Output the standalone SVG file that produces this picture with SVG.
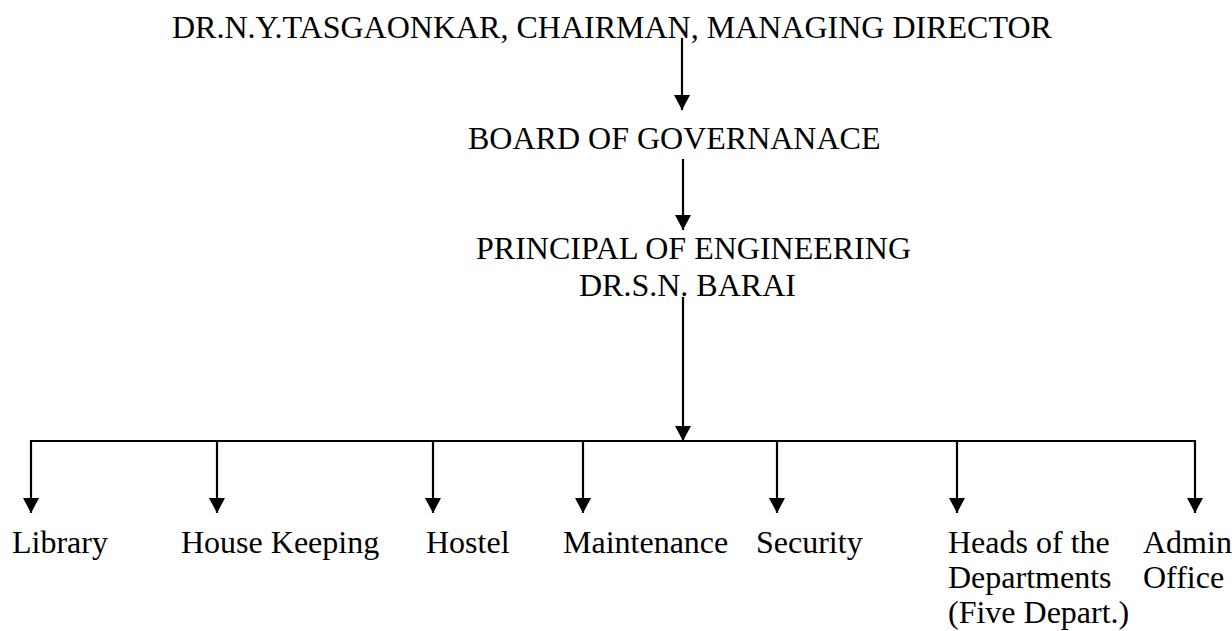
<svg xmlns="http://www.w3.org/2000/svg" width="1232" height="631" viewBox="0 0 1232 631">
<style>
text{font-family:"Liberation Serif","Times New Roman",serif;font-size:32px;fill:#000}
.c{stroke:#000;stroke-width:2.2;fill:none}
</style>
<defs>
<marker id="ah" markerUnits="userSpaceOnUse" markerWidth="16" markerHeight="16" refX="15" refY="8" orient="auto" viewBox="0 0 16 16">
<path d="M0,0 L15,8 L0,16 z" fill="#000"/>
</marker>
</defs>
<rect width="1232" height="631" fill="#fff"/>
<g id="chairman"><text x="172" y="38">DR.N.Y.TASGAONKAR, CHAIRMAN, MANAGING DIRECTOR</text></g>
<g id="board"><text x="468" y="149">BOARD OF GOVERNANACE</text></g>
<g id="principal"><text x="476" y="259">PRINCIPAL OF ENGINEERING</text><text x="579" y="296">DR.S.N. BARAI</text></g>
<g id="library"><text x="12" y="553">Library</text></g>
<g id="housekeeping"><text x="181" y="553">House Keeping</text></g>
<g id="hostel"><text x="426" y="553">Hostel</text></g>
<g id="maintenance"><text x="563" y="553">Maintenance</text></g>
<g id="security"><text x="756" y="553">Security</text></g>
<g id="heads"><text x="948" y="553">Heads of the</text><text x="948" y="588">Departments</text><text x="948" y="623">(Five Depart.)</text></g>
<g id="admin"><text x="1143" y="553">Admin</text><text x="1143" y="588">Office</text></g>
<g id="connectors">
<line class="c" x1="682" y1="38" x2="682" y2="110" marker-end="url(#ah)"/>
<line class="c" x1="683" y1="159" x2="683" y2="230" marker-end="url(#ah)"/>
<line class="c" x1="683" y1="297" x2="683" y2="441" marker-end="url(#ah)"/>
<line class="c" x1="31" y1="441" x2="1196" y2="441"/>
<line class="c" x1="31" y1="440" x2="31" y2="513" marker-end="url(#ah)"/>
<line class="c" x1="217" y1="441" x2="217" y2="513" marker-end="url(#ah)"/>
<line class="c" x1="433" y1="441" x2="433" y2="513" marker-end="url(#ah)"/>
<line class="c" x1="583" y1="441" x2="583" y2="513" marker-end="url(#ah)"/>
<line class="c" x1="777" y1="441" x2="777" y2="513" marker-end="url(#ah)"/>
<line class="c" x1="957" y1="441" x2="957" y2="513" marker-end="url(#ah)"/>
<line class="c" x1="1195" y1="440" x2="1195" y2="513" marker-end="url(#ah)"/>
</g>
</svg>
